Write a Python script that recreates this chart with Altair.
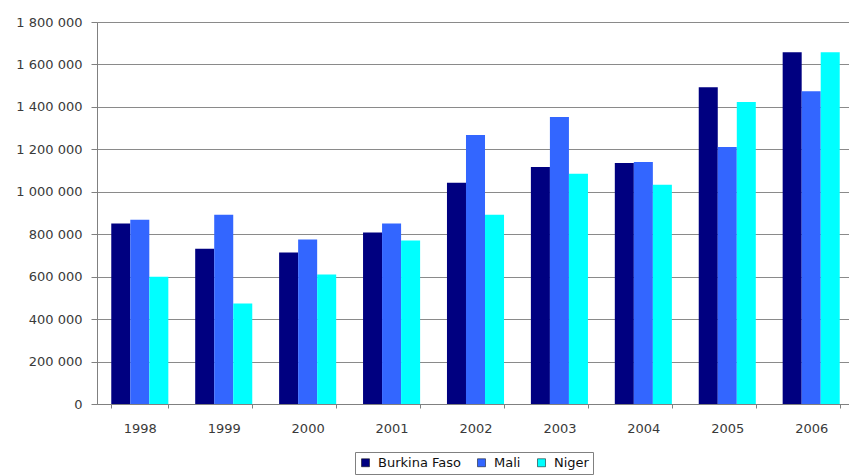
import altair as alt
import pandas as pd

years = ["1998", "1999", "2000", "2001", "2002", "2003", "2004", "2005", "2006"]
countries = ["Burkina Faso", "Mali", "Niger"]
burkina = [850000, 732000, 714000, 808000, 1042000, 1117000, 1136000, 1493000, 1657000]
mali = [868000, 892000, 775000, 850000, 1268000, 1352000, 1140000, 1211000, 1474000]
niger = [600000, 474000, 610000, 770000, 892000, 1085000, 1033000, 1423000, 1657000]
colors = ["#000080", "#3366FF", "#00FFFF"]

rows = []
for name, vals in zip(countries, [burkina, mali, niger]):
    for y, v in zip(years, vals):
        rows.append({"year": y, "country": name, "value": v})
df = pd.DataFrame(rows)

font = "DejaVu Sans"
txt = "#3a3a3a"

chart = alt.Chart(df).mark_bar().encode(
    x=alt.X("year:N", sort=years, title=None,
            scale=alt.Scale(paddingInner=0.32, paddingOuter=0.17),
            axis=alt.Axis(labelAngle=0, tickBand="extent", grid=False,
                          domainColor="#808080", tickColor="#808080", tickSize=4,
                          labelFont=font, labelFontSize=13, labelColor=txt,
                          labelPadding=14)),
    xOffset=alt.XOffset("country:N", sort=countries),
    y=alt.Y("value:Q", title=None,
            scale=alt.Scale(domain=[0, 1800000], nice=False),
            axis=alt.Axis(values=list(range(0, 1800001, 200000)),
                          labelExpr="replace(format(datum.value, ','), /,/g, ' ')",
                          gridColor="#8a8a8a", gridWidth=1, domainColor="#808080",
                          tickColor="#808080", tickSize=6,
                          labelFont=font, labelFontSize=13, labelColor=txt,
                          labelPadding=9)),
    color=alt.Color("country:N", sort=countries,
                    scale=alt.Scale(domain=countries, range=colors),
                    legend=alt.Legend(title=None, orient="none", direction="horizontal",
                                      legendX=258, legendY=430,
                                      symbolType="square", symbolSize=64,
                                      symbolStrokeColor="#000000", symbolStrokeWidth=0.5,
                                      labelFont=font, labelFontSize=13, labelColor="#111111",
                                      columnPadding=14, symbolOffset=0, labelOffset=6,
                                      padding=4, strokeColor="#808080")),
).properties(
    width=757, height=382,
    autosize=alt.AutoSizeParams(type="none"),
    padding={"left": 97, "top": 22, "right": -5, "bottom": 71},
).configure_view(stroke=None).configure(background="white")

chart.save("out.html", embed_options={"renderer": "svg", "actions": False})
